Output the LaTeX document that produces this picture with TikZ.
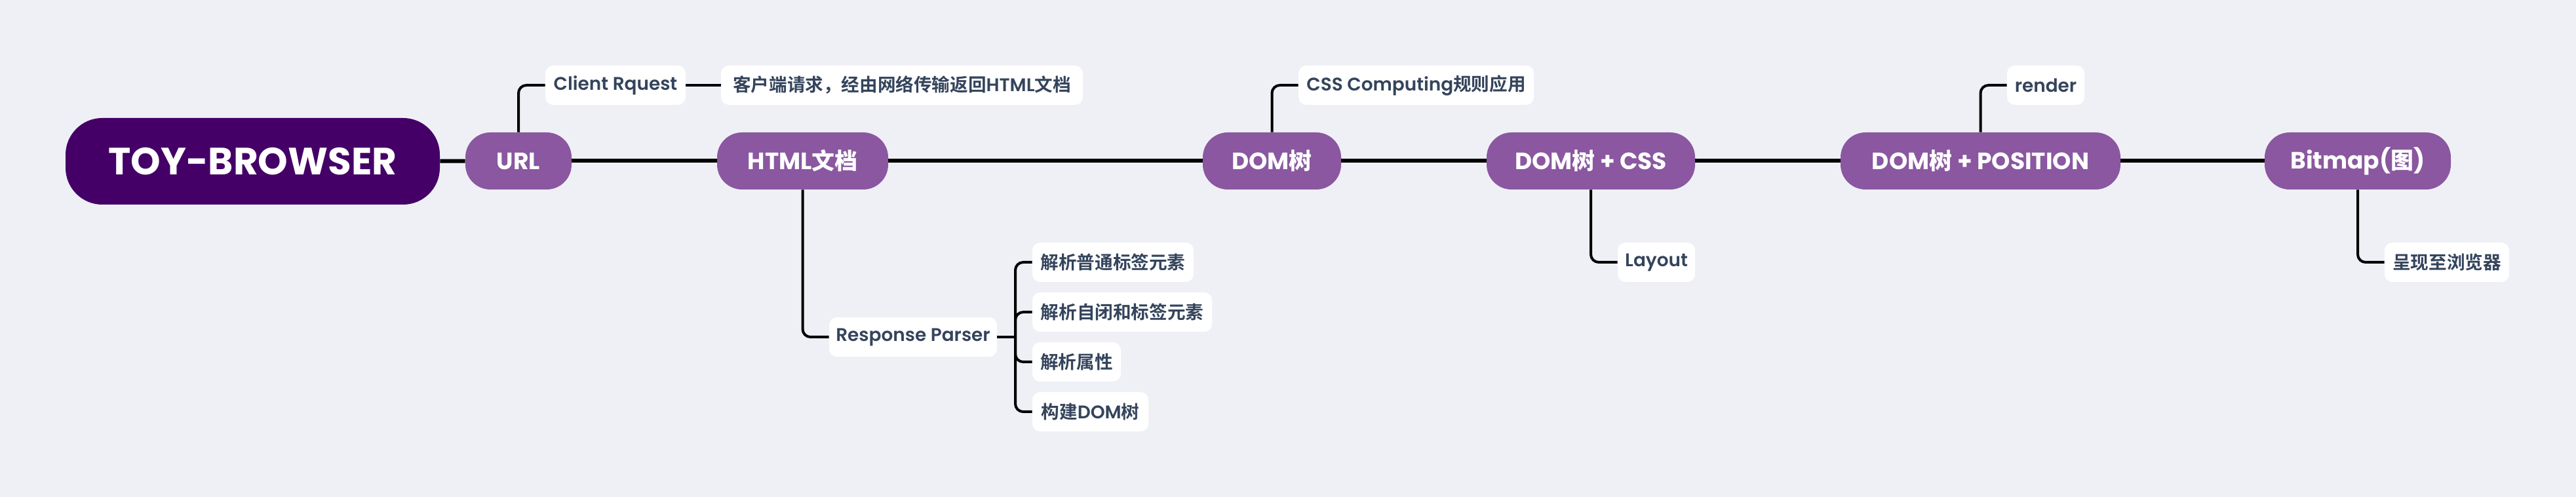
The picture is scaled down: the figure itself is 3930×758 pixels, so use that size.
\documentclass[tikz,border=0pt]{standalone}
\usepackage{fontspec}
\setmainfont{Poppins}
\newfontfamily\semif[Scale=0.93]{Poppins SemiBold}
\newfontfamily\cjks[Scale=0.92]{Noto Sans CJK SC Bold}
\newfontfamily\cjkm[Scale=0.97]{Noto Sans CJK SC Bold}
\newcommand{\cjk}{\cjks}
\definecolor{bgcol}{HTML}{EFF0F5}
\definecolor{rootcol}{HTML}{450068}
\definecolor{maincol}{HTML}{8A57A0}
\definecolor{textdark}{HTML}{34445C}
\tikzset{
  rootnode/.style={fill=rootcol, text=white, rounded corners=28pt, minimum height=66pt, inner sep=0pt, font=\fontsize{29}{34}\selectfont\bfseries},
  mainnode/.style={fill=maincol, text=white, rounded corners=19pt, minimum height=43.5pt, inner sep=0pt, font=\fontsize{18}{22}\selectfont\bfseries\let\cjk\cjkm},
  subnode/.style={fill=white, text=textdark, rounded corners=6pt, minimum height=30pt, inner sep=0pt, font=\fontsize{15}{18}\selectfont\semif\let\cjk\cjks},
  spine/.style={line width=3pt, black},
  branch/.style={line width=2pt, black, rounded corners=6pt},
}
\begin{document}
\begin{tikzpicture}[x=0.5pt,y=-0.5pt]
\fill[bgcol] (0,0) rectangle (3930,758);
\useasboundingbox (0,0) rectangle (3930,758);
% main nodes
\node[rootnode, minimum width=285.5pt] (root) at (385.5,246) {TOY-BROWSER};
\node[mainnode, minimum width=81pt] (url) at (791,245.5) {URL};
\node[mainnode, minimum width=130.5pt] (html) at (1224.5,245.5) {HTML{\cjk 文档}};
\node[mainnode, minimum width=105.5pt] (dom) at (1940.5,245.5) {DOM{\cjk 树}};
\node[mainnode, minimum width=159pt] (domcss) at (2427,245.5) {DOM{\cjk 树} + CSS};
\node[mainnode, minimum width=213.5pt] (dompos) at (3021.5,245.5) {DOM{\cjk 树} + POSITION};
\node[mainnode, minimum width=142pt] (bitmap) at (3597,245.5) {Bitmap({\cjk 图})};
% sub nodes
\node[subnode, minimum width=107pt] (client) at (939,130) {Client Rquest};
\node[subnode, minimum width=276pt] (kehu) at (1376,130) {{\cjk 客户端请求，经由网络传输返回}HTML{\cjk 文档}};
\node[subnode, minimum width=179.5pt] (css) at (2160.5,130) {CSS Computing{\cjk 规则应用}};
\node[subnode, minimum width=59pt] (render) at (3121,130) {render};
\node[subnode, minimum width=59pt] (layout) at (2527,400) {Layout};
\node[subnode, minimum width=95pt] (show) at (3733,400) {{\cjk 呈现至浏览器}};
\node[subnode, minimum width=128pt] (rp) at (1393,514) {Response Parser};
\node[subnode, minimum width=123pt] (c1) at (1698,400) {{\cjk 解析普通标签元素}};
\node[subnode, minimum width=137pt] (c2) at (1712,476) {{\cjk 解析自闭和标签元素}};
\node[subnode, minimum width=67.5pt] (c3) at (1642.5,552) {{\cjk 解析属性}};
\node[subnode, minimum width=88.5pt] (c4) at (1663.5,628) {{\cjk 构建}DOM{\cjk 树}};
% spine
\draw[spine] (root) -- (url);
\draw[spine] (url) -- (html);
\draw[spine] (html) -- (dom);
\draw[spine] (dom) -- (domcss);
\draw[spine] (domcss) -- (dompos);
\draw[spine] (dompos) -- (bitmap);
% branches
\draw[branch] (url.north) |- (client.west);
\draw[branch] (client.east) -- (kehu.west);
\draw[branch] (dom.north) |- (css.west);
\draw[branch] (dompos.north) |- (render.west);
\draw[branch] (domcss.south) |- (layout.west);
\draw[branch] (bitmap.south) |- (show.west);
\draw[branch] (html.south) |- (rp.west);
\coordinate (j) at (1549,514);
\draw[branch] (rp.east) -- (j);
\draw[branch] (j) |- (c1.west);
\draw[branch] (j) |- (c2.west);
\draw[branch] (j) |- (c3.west);
\draw[branch] (j) |- (c4.west);
\end{tikzpicture}
\end{document}
